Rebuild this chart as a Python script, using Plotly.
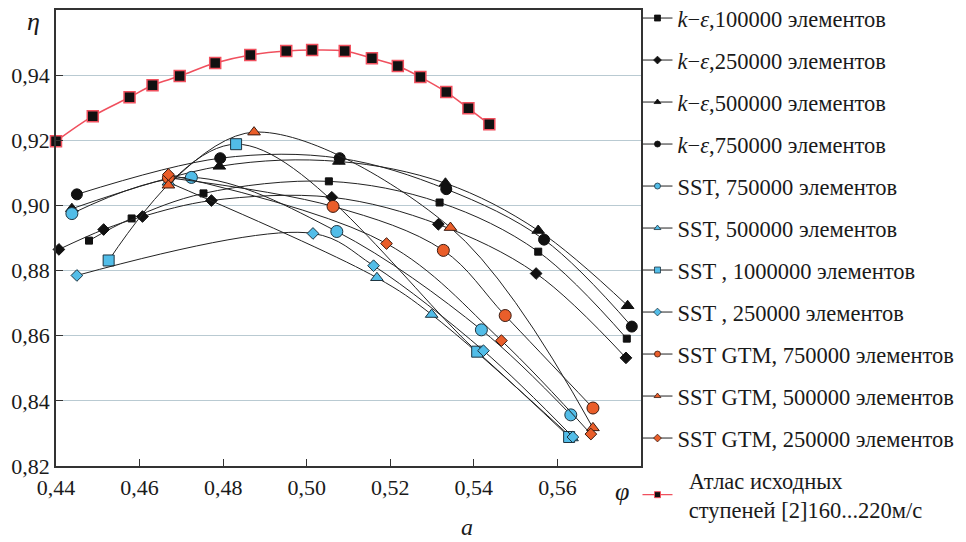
import plotly.graph_objects as go

# ---------------- data ----------------
x_ticks = [0.44, 0.46, 0.48, 0.50, 0.52, 0.54, 0.56]
y_ticks = [0.82, 0.84, 0.86, 0.88, 0.90, 0.92, 0.94]

ke100_x = [0.4479, 0.4581, 0.4753, 0.5053, 0.5318, 0.5554, 0.5766]
ke100_y = [0.8892, 0.8960, 0.9037, 0.9074, 0.9009, 0.8858, 0.8591]

ke250_x = [0.4407, 0.4514, 0.4607, 0.4772, 0.5060, 0.5315, 0.5549, 0.5764]
ke250_y = [0.8865, 0.8926, 0.8966, 0.9015, 0.9025, 0.8942, 0.8791, 0.8532]

ke500_x = [0.4438, 0.4791, 0.5077, 0.5332, 0.5554, 0.5768]
ke500_y = [0.8990, 0.9120, 0.9135, 0.9068, 0.8923, 0.8692]

ke750_x = [0.4450, 0.4793, 0.5079, 0.5334, 0.5568, 0.5778]
ke750_y = [0.9034, 0.9145, 0.9145, 0.9050, 0.8895, 0.8628]

sst750_x = [0.4438, 0.4724, 0.5072, 0.5418, 0.5632]
sst750_y = [0.8975, 0.9086, 0.8920, 0.8618, 0.8357]

sst500_x = [0.4669, 0.5168, 0.5299, 0.5635]
sst500_y = [0.9071, 0.8778, 0.8665, 0.8286]

sst1000_x = [0.4526, 0.4831, 0.5408, 0.5628]
sst1000_y = [0.8831, 0.9188, 0.8551, 0.8289]

sst250_x = [0.4450, 0.5015, 0.5160, 0.5423, 0.5637]
sst250_y = [0.8785, 0.8914, 0.8815, 0.8554, 0.8289]

gtm750_x = [0.4669, 0.5063, 0.5327, 0.5475, 0.5685]
gtm750_y = [0.9085, 0.8997, 0.8862, 0.8662, 0.8378]

gtm500_x = [0.4669, 0.4874, 0.5344, 0.5685]
gtm500_y = [0.9062, 0.9225, 0.8932, 0.8317]

gtm250_x = [0.4669, 0.5191, 0.5466, 0.5680]
gtm250_y = [0.9095, 0.8883, 0.8585, 0.8298]

atlas_x = [0.440, 0.4488, 0.4576, 0.4631, 0.4696, 0.4781, 0.4865, 0.4951,
           0.5013, 0.5091, 0.5156, 0.5218, 0.5272, 0.5334, 0.5387, 0.5437]
atlas_y = [0.9197, 0.9274, 0.9332, 0.9369, 0.9397, 0.9437, 0.9462, 0.9474,
           0.9477, 0.9474, 0.9452, 0.9428, 0.9394, 0.9348, 0.9298, 0.9249]

names = [
    "<i>k</i>\u2212<i>\u03b5</i>,100000 элементов",
    "<i>k</i>\u2212<i>\u03b5</i>,250000 элементов",
    "<i>k</i>\u2212<i>\u03b5</i>,500000 элементов",
    "<i>k</i>\u2212<i>\u03b5</i>,750000 элементов",
    "SST, 750000 элементов",
    "SST, 500000 элементов",
    "SST , 1000000 элементов",
    "SST , 250000 элементов",
    "SST GTM, 750000 элементов",
    "SST GTM, 500000 элементов",
    "SST GTM, 250000 элементов",
    "\u00a0\u00a0Атлас исходных<br>\u00a0\u00a0ступеней [2]160...220м/с",
]

BLACK = "#111111"
BLUE = "#52bde8"
ORANGE = "#ea5e2a"
RED = "#f0505e"
EDGE_B = "#1d3440"
EDGE_O = "#3a1a10"

series = [
    (ke100_x, ke100_y, "square", BLACK, BLACK, 7),
    (ke250_x, ke250_y, "diamond", BLACK, BLACK, 9),
    (ke500_x, ke500_y, "triangle-up", BLACK, BLACK, 11),
    (ke750_x, ke750_y, "circle", BLACK, BLACK, 11),
    (sst750_x, sst750_y, "circle", BLUE, EDGE_B, 12),
    (sst500_x, sst500_y, "triangle-up", BLUE, EDGE_B, 11),
    (sst1000_x, sst1000_y, "square", BLUE, EDGE_B, 11),
    (sst250_x, sst250_y, "diamond", BLUE, EDGE_B, 9),
    (gtm750_x, gtm750_y, "circle", ORANGE, EDGE_O, 12),
    (gtm500_x, gtm500_y, "triangle-up", ORANGE, EDGE_O, 11),
    (gtm250_x, gtm250_y, "diamond", ORANGE, EDGE_O, 9),
]

fig = go.Figure()

for (xs, ys, sym, fill, edge, size) in series:
    fig.add_trace(go.Scatter(
        x=xs, y=ys, mode="lines+markers", showlegend=False,
        line=dict(color="#222222", width=1, shape="spline", smoothing=1.0),
        marker=dict(symbol=sym, color=fill, size=size,
                    line=dict(color=edge, width=1)),
        cliponaxis=False, hoverinfo="x+y"))

fig.add_trace(go.Scatter(
    x=atlas_x, y=atlas_y, mode="lines+markers", showlegend=False,
    line=dict(color=RED, width=1.6, shape="spline", smoothing=1.0),
    marker=dict(symbol="square", color=BLACK, size=11,
                line=dict(color=RED, width=1.5)),
    cliponaxis=False))

# legend entries (small symbols, as in the reference legend)
for i, (xs, ys, sym, fill, edge, size) in enumerate(series):
    fig.add_trace(go.Scatter(
        x=[None], y=[None], mode="lines+markers", name=names[i],
        legendgroup="g%d" % i,
        line=dict(color="#222222", width=1),
        marker=dict(symbol=sym, color=fill, size=6,
                    line=dict(color=edge, width=0.8))))
fig.add_trace(go.Scatter(
    x=[None], y=[None], mode="lines+markers", name=names[-1],
    legendgroup="g_atlas",
    line=dict(color=RED, width=1.2),
    marker=dict(symbol="square", color=BLACK, size=6,
                line=dict(color=RED, width=1))))

FONT = "Liberation Serif, Times New Roman, Tinos, DejaVu Serif, serif"

# the page body has an 8px margin, so the figure is sized/offset to compensate
fig.update_layout(
    width=958, height=534,
    margin=dict(l=48, r=325, t=2, b=76, autoexpand=False),
    paper_bgcolor="white", plot_bgcolor="white",
    separators=",.",
    font=dict(family=FONT, size=22, color="#1a1a1a"),
    showlegend=True,
    legend=dict(x=0.994, xanchor="left", y=1.0287, yanchor="top",
                yref="paper", maxheight=560,
                font=dict(family=FONT, size=22.5, color="#1a1a1a"),
                tracegroupgap=9.75, bgcolor="rgba(0,0,0,0)",
                itemclick=False, itemdoubleclick=False),
    xaxis=dict(range=[0.44, 0.58], tickvals=x_ticks, tickformat=".2f",
               ticks="inside", ticklen=7, tickcolor="#333333", tickwidth=1.2,
               showline=True, linecolor="#333333", linewidth=1.5, mirror=True,
               showgrid=False, zeroline=False, ticklabelstandoff=1,
               tickfont=dict(family=FONT, size=22)),
    yaxis=dict(range=[0.82, 0.96], tickvals=y_ticks, tickformat=".2f",
               ticks="inside", ticklen=7, tickcolor="#333333", tickwidth=1.2,
               showline=True, linecolor="#333333", linewidth=1.5, mirror=True,
               showgrid=True, gridcolor="#b9cad2", gridwidth=1,
               zeroline=False,
               tickfont=dict(family=FONT, size=22)),
)

fig.add_annotation(text="<i>\u03b7</i>", xref="paper", yref="paper",
                   x=-0.0393, y=0.9737, xanchor="center", yanchor="middle",
                   showarrow=False, font=dict(family=FONT, size=26))
fig.add_annotation(text="<i>\u03c6</i>", xref="paper", yref="paper",
                   x=0.9675, y=-0.057, xanchor="center", yanchor="middle",
                   showarrow=False, font=dict(family=FONT, size=26))
fig.add_annotation(text="<i>a</i>", xref="paper", yref="paper",
                   x=0.7026, y=-0.1338, xanchor="center", yanchor="middle",
                   showarrow=False, font=dict(family=FONT, size=24))

fig.write_html("out.html")
